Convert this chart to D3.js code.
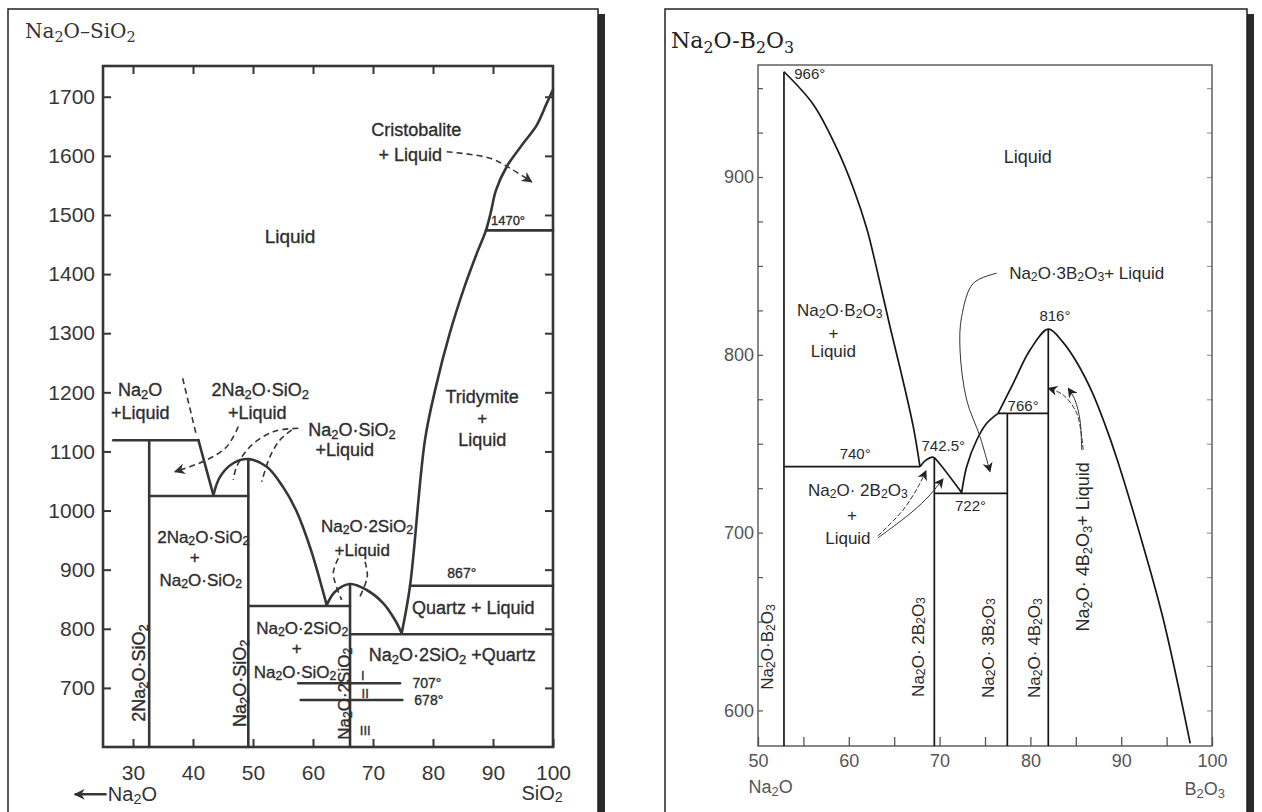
<!DOCTYPE html>
<html lang="en">
<head>
<meta charset="UTF-8">
<title>Na2O-SiO2 and Na2O-B2O3 phase diagrams</title>
<script src="https://cdnjs.cloudflare.com/ajax/libs/d3/7.9.0/d3.min.js"></script>
<style>
  html, body { margin: 0; padding: 0; background: #fff; }
  svg { display: block; }
</style>
</head>
<body>
<svg id="chart" width="1262" height="812"></svg>
<script>
// ---------- Na2O-SiO2 (x = % SiO2, y = deg C) ----------
const silTicksY = d3.range(700, 1701, 100);
const silTicksX = d3.range(30, 101, 10);

const silLiqNa2O = [[40.9, 1119], [43.4, 1026]];
const silDome1 = [[43.4, 1026], [44.5, 1057], [46.7, 1080], [49.22, 1087], [52.3, 1074],
                  [55.0, 1040], [57.2, 1000], [59.6, 935], [62.28, 840]];
const silDome2 = [[62.28, 840], [63.67, 862.7], [66.17, 875.8], [68.95, 865.6],
                  [71.72, 843.1], [73.67, 814.9], [74.78, 792.4]];
const silLiqSiO2 = [[74.78, 792.4], [76.17, 872.4], [78.67, 1120], [80.5, 1210], [82.8, 1300],
                    [85.3, 1380], [87.3, 1435], [88.83, 1474], [89.6, 1503], [90.5, 1542],
                    [92.3, 1582], [94.8, 1618], [97.3, 1652], [99.0, 1690], [100, 1712]];
const silVerticals = [{ x: 32.7, top: 1119 }, { x: 49.22, top: 1087 }, { x: 66.17, top: 875.8 }];
const silHorizontals = [
  { y: 1119, x1: 26.7, x2: 40.9 }, { y: 1024.6, x1: 32.7, x2: 49.22 },
  { y: 838.5, x1: 49.22, x2: 66.17 }, { y: 790.7, x1: 66.17, x2: 100 },
  { y: 872.9, x1: 76.17, x2: 100 }, { y: 1474, x1: 88.83, x2: 100 },
  { y: 707.8, x1: 57.55, x2: 74.5 }, { y: 679.5, x1: 57.95, x2: 74.9 }
];
const silDashed = [
  [[38.28, 1223.8], [40.62, 1125]],
  [[64.22, 919.2], [63.38, 893.9], [64.78, 848.7]],
  [[68.67, 913.5], [69.05, 888.1], [67.55, 848.7]],
  [[57.55, 1139.2], [53.38, 1133.4], [49.5, 1108], [47.28, 1074.2], [46.72, 1051.7]],
  [[56.45, 1136.3], [54.5, 1119.4], [52.83, 1091.1], [51.45, 1048.8]]
];
const silDashedArrows = [
  [[47.55, 1141.9], [45.62, 1108], [42.28, 1085.6], [37.0, 1065.7]],
  [[82.28, 1607], [89.5, 1596], [93.33, 1576], [96.45, 1556]]
];
const silLabels = [
  { t: "Liquid", x: 56.17, y: 1464, s: 19 },
  { t: "Cristobalite", x: 77.2, y: 1644, s: 18 },
  { t: "+ Liquid", x: 76.2, y: 1601, s: 18 },
  { t: "1470°", x: 92.5, y: 1492, s: 13 },
  { t: "Tridymite", x: 88.2, y: 1192, s: 18 },
  { t: "+", x: 88.2, y: 1157, s: 17 },
  { t: "Liquid", x: 88.2, y: 1119, s: 18 },
  { t: "Na_2O", x: 31.2, y: 1204, s: 18 },
  { t: "+Liquid", x: 31.2, y: 1165, s: 18 },
  { t: "2Na_2O·SiO_2", x: 51.2, y: 1204, s: 18 },
  { t: "+Liquid", x: 50.7, y: 1165, s: 18 },
  { t: "Na_2O·SiO_2", x: 66.5, y: 1136, s: 18 },
  { t: "+Liquid", x: 65.3, y: 1102, s: 18 },
  { t: "2Na_2O·SiO_2", x: 41.7, y: 955, s: 17 },
  { t: "+", x: 40.3, y: 921, s: 17 },
  { t: "Na_2O·SiO_2", x: 41.3, y: 882, s: 17 },
  { t: "Na_2O·2SiO_2", x: 69.0, y: 974, s: 17 },
  { t: "+Liquid", x: 68.2, y: 933, s: 17 },
  { t: "867°", x: 84.8, y: 894, s: 14 },
  { t: "Quartz + Liquid", x: 86.7, y: 835, s: 18 },
  { t: "Na_2O·2SiO_2 +Quartz", x: 83.2, y: 756, s: 18 },
  { t: "Na_2O·2SiO_2", x: 58.2, y: 801, s: 17 },
  { t: "+", x: 57.3, y: 767, s: 17 },
  { t: "Na_2O·SiO_2", x: 57.0, y: 727, s: 17 },
  { t: "2Na_2O·SiO_2", x: 31.0, y: 725, s: 18, r: true },
  { t: "Na_2O·SiO_2", x: 47.8, y: 708, s: 18, r: true },
  { t: "Na_2O·2SiO_2", x: 65.2, y: 690, s: 17, r: true },
  { t: "707°", x: 79.0, y: 708, s: 14 },
  { t: "678°", x: 79.3, y: 680, s: 14 },
  { t: "I", x: 68.3, y: 722, s: 13 },
  { t: "II", x: 68.7, y: 691, s: 13 },
  { t: "III", x: 68.7, y: 629, s: 13 }
];

// ---------- Na2O-B2O3 (x = % B2O3, y = deg C) ----------
const borTicksY = d3.range(600, 951, 25);
const borTicksX = d3.range(50, 101, 5);

const borLiqLeft = [[52.86, 959.2], [56.09, 940.8], [58.67, 916.2], [60.5, 893.7], [61.97, 871.2],
                    [63.0, 850], [64.54, 815.8], [65.9, 787], [67.1, 759.6], [67.84, 737.1]];
const borLiqHump = [[67.84, 737.1], [68.5, 740.8], [69.31, 742.4], [69.8, 740], [72.43, 722.5]];
const borLiqLow = [[72.43, 722.5], [72.98, 737.1], [74.09, 752.1], [75.19, 761.5], [76.44, 767.1]];
const borLiqHigh = [[76.44, 767.1], [78.11, 784], [79.96, 802.7], [81.97, 814.4], [83.6, 807],
                    [85.2, 795], [86.8, 779], [88.2, 761], [89.5, 742], [92.0, 700],
                    [94.6, 652], [97.6, 581.5]];
const borVerticals = [{ x: 52.86, top: 959.2 }, { x: 69.42, top: 742 },
                      { x: 77.46, top: 767.1 }, { x: 81.97, top: 814.4 }];
const borHorizontals = [{ y: 737.1, x1: 52.86, x2: 67.84 }, { y: 722.1, x1: 69.42, x2: 77.46 },
                        { y: 767.1, x1: 76.44, x2: 81.97 }];
const borArrows = [
  [[76.29, 845.9], [73.71, 840.2], [72.43, 821.5], [72.25, 802.7], [72.98, 774.6], [74.45, 754], [75.55, 734.3]],
  [[63.2, 698.1], [65.97, 712.7], [67.62, 725.7], [68.5, 734.7]],
  [[63.2, 697], [66.96, 711.6], [68.94, 721.2], [70.37, 730.2]],
  [[85.82, 746.5], [85.1, 767.1], [83.62, 777.4], [81.97, 781.2]],
  [[85.65, 746.5], [85.46, 763.4], [84.91, 774.6], [84.17, 781.2]]
];
const borLabels = [
  { t: "966°", x: 55.7, y: 958.5, s: 15 },
  { t: "Liquid", x: 79.7, y: 911, s: 18 },
  { t: "Na_2O·3B_2O_3+ Liquid", x: 86.2, y: 846, s: 17 },
  { t: "816°", x: 82.7, y: 822.5, s: 15 },
  { t: "Na_2O·B_2O_3", x: 59.0, y: 825, s: 17 },
  { t: "+", x: 58.3, y: 812, s: 17 },
  { t: "Liquid", x: 58.3, y: 802, s: 17 },
  { t: "766°", x: 79.2, y: 772, s: 15 },
  { t: "742.5°", x: 70.4, y: 749.3, s: 15 },
  { t: "740°", x: 60.7, y: 745, s: 15 },
  { t: "722°", x: 73.4, y: 715.5, s: 15 },
  { t: "Na_2O· 2B_2O_3", x: 61.0, y: 724, s: 17 },
  { t: "+", x: 60.35, y: 710, s: 17 },
  { t: "Liquid", x: 59.9, y: 697, s: 17 },
  { t: "Na_2O·B_2O_3", x: 51.0, y: 635.7, s: 17, r: true },
  { t: "Na_2O· 2B_2O_3", x: 67.6, y: 635.7, s: 17, r: true },
  { t: "Na_2O· 3B_2O_3", x: 75.3, y: 635.1, s: 17, r: true },
  { t: "Na_2O· 4B_2O_3", x: 80.4, y: 635.1, s: 17, r: true },
  { t: "Na_2O· 4B_2O_3+ Liquid", x: 85.8, y: 692, s: 18, r: true }
];

// ---------- drawing ----------
const svg = d3.select("#chart");
const sans = "'Liberation Sans', Arial, sans-serif";
const serif = "'DejaVu Serif', 'Liberation Serif', serif";

// text with "_d" subscripts
function rich(sel, s) {
  const parts = s.split(/_(\d)/);
  let low = false;
  parts.forEach((p, i) => {
    if (!p) return;
    const t = sel.append("tspan").text(p);
    if (i % 2 === 1) {
      t.attr("font-size", "0.72em").attr("dy", "0.3em");
      low = true;
    } else if (low) {
      t.attr("dy", "-0.216em");
      low = false;
    }
  });
}

function drawLabels(g, xs, ys, data, fill, weight) {
  data.forEach(d => {
    const px = xs(d.x), py = ys(d.y);
    const t = g.append("text")
      .attr("x", px).attr("y", py)
      .attr("text-anchor", "middle")
      .attr("dominant-baseline", "central")
      .attr("font-family", sans)
      .attr("font-size", d.s)
      .attr("fill", fill)
      .attr("stroke", weight ? fill : null)
      .attr("stroke-width", weight || null);
    if (d.r) t.attr("transform", `rotate(-90 ${px} ${py})`);
    rich(t, d.t);
  });
}

function marker(id, color, size) {
  svg.select("defs").append("marker")
    .attr("id", id)
    .attr("viewBox", "0 0 10 10")
    .attr("refX", 9).attr("refY", 5)
    .attr("markerWidth", size).attr("markerHeight", size)
    .attr("markerUnits", "userSpaceOnUse")
    .attr("orient", "auto")
    .append("path")
    .attr("d", "M0,0 L10,5 L0,10 L3,5 z")
    .attr("fill", color);
}
svg.append("defs");
marker("headL", "#333", 11);
marker("headR", "#222", 10);

// panel frames with dark shadow on the right
function frame(x, y, w, h) {
  svg.append("rect").attr("x", x + w).attr("y", y + 5).attr("width", 7).attr("height", h)
    .attr("fill", "#2b2b2b");
  svg.append("rect").attr("x", x).attr("y", y).attr("width", w).attr("height", h)
    .attr("fill", "#fff").attr("stroke", "#222").attr("stroke-width", 1.5);
}
frame(8, 9, 590, 820);
frame(665, 9, 582, 820);

// ===== left panel =====
const L = svg.append("g");
const xL = d3.scaleLinear().domain([25, 100]).range([103, 553]);
const yL = d3.scaleLinear().domain([600, 1752]).range([747, 66]);
const inkL = "#363636";

const titleL = L.append("text").attr("x", 25).attr("y", 38)
  .attr("font-family", serif).attr("font-size", 20).attr("fill", "#333");
rich(titleL, "Na_2O–SiO_2");

function styleAxis(g, size, color) {
  g.select(".domain").remove();
  g.selectAll(".tick line").attr("stroke", color).attr("stroke-width", 2);
  g.selectAll(".tick text").attr("font-size", size).attr("font-family", sans).attr("fill", color);
}

L.append("g").attr("transform", `translate(0,${yL(600)})`)
  .call(d3.axisBottom(xL).tickValues(silTicksX).tickSize(-8).tickPadding(18).tickFormat(d3.format("d")))
  .call(g => styleAxis(g, 21, inkL));
L.append("g").attr("transform", `translate(0,${yL(1752)})`)
  .call(d3.axisTop(xL).tickValues(silTicksX.slice(0, -1)).tickSize(-8).tickFormat(""))
  .call(g => styleAxis(g, 21, inkL));
L.append("g").attr("transform", `translate(${xL(25)},0)`)
  .call(d3.axisLeft(yL).tickValues(silTicksY).tickSize(-8).tickPadding(8).tickFormat(d3.format("d")))
  .call(g => styleAxis(g, 21, inkL));
L.append("g").attr("transform", `translate(${xL(100)},0)`)
  .call(d3.axisRight(yL).tickValues(silTicksY).tickSize(-8).tickFormat(""))
  .call(g => styleAxis(g, 21, inkL));

L.append("rect")
  .attr("x", xL(25)).attr("y", yL(1752))
  .attr("width", xL(100) - xL(25)).attr("height", yL(600) - yL(1752))
  .attr("fill", "none").attr("stroke", inkL).attr("stroke-width", 2.6);

const lineL = d3.line().x(d => xL(d[0])).y(d => yL(d[1]));
const softL = d3.line().x(d => xL(d[0])).y(d => yL(d[1])).curve(d3.curveCatmullRom.alpha(0.5));

const solidL = L.append("g").attr("fill", "none").attr("stroke", inkL)
  .attr("stroke-width", 2.6).attr("stroke-linecap", "round").attr("stroke-linejoin", "round");
solidL.append("path").attr("d", lineL(silLiqNa2O));
[silDome1, silDome2, silLiqSiO2].forEach(c => solidL.append("path").attr("d", softL(c)));
solidL.selectAll(".v").data(silVerticals).join("line").attr("class", "v")
  .attr("x1", d => xL(d.x)).attr("x2", d => xL(d.x))
  .attr("y1", d => yL(d.top)).attr("y2", yL(600));
solidL.selectAll(".h").data(silHorizontals).join("line").attr("class", "h")
  .attr("x1", d => xL(d.x1)).attr("x2", d => xL(d.x2))
  .attr("y1", d => yL(d.y)).attr("y2", d => yL(d.y));

const dashL = L.append("g").attr("fill", "none").attr("stroke", inkL)
  .attr("stroke-width", 1.6).attr("stroke-dasharray", "6,4");
silDashed.forEach(c => dashL.append("path").attr("d", softL(c)));
silDashedArrows.forEach(c => dashL.append("path").attr("d", softL(c)).attr("marker-end", "url(#headL)"));

drawLabels(L, xL, yL, silLabels, "#2e2e2e", 0.35);

// composition direction below the axis
L.append("line")
  .attr("x1", xL(25.6)).attr("x2", xL(20.3))
  .attr("y1", yL(520)).attr("y2", yL(520))
  .attr("stroke", inkL).attr("stroke-width", 2.4).attr("marker-end", "url(#headL)");
const naL = L.append("text").attr("x", xL(25.8)).attr("y", yL(520)).attr("dominant-baseline", "central")
  .attr("font-family", sans).attr("font-size", 20).attr("fill", "#333");
rich(naL, "Na_2O");
const siL = L.append("text").attr("x", xL(98.2)).attr("y", yL(522)).attr("dominant-baseline", "central")
  .attr("text-anchor", "middle").attr("font-family", sans).attr("font-size", 20).attr("fill", "#333");
rich(siL, "SiO_2");

// ===== right panel =====
const R = svg.append("g");
const xR = d3.scaleLinear().domain([50, 100]).range([758, 1212]);
const yR = d3.scaleLinear().domain([580, 963]).range([746, 65]);
const inkR = "#161616";
const greyR = "#555";

const titleR = R.append("text").attr("x", 671).attr("y", 48)
  .attr("font-family", serif).attr("font-size", 22).attr("fill", "#222");
rich(titleR, "Na_2O-B_2O_3");

R.append("g").attr("transform", `translate(0,${yR(580)})`)
  .call(d3.axisBottom(xR).tickValues(borTicksX).tickSize(-9).tickPadding(8)
    .tickFormat(d => d % 10 === 0 ? d : ""))
  .call(g => styleAxis(g, 18, greyR))
  .call(g => g.selectAll(".tick line").attr("stroke-width", 1.3));
R.append("g").attr("transform", `translate(${xR(50)},0)`)
  .call(d3.axisLeft(yR).tickValues(borTicksY).tickSize(-5).tickPadding(4)
    .tickFormat(d => d % 100 === 0 ? d : ""))
  .call(g => styleAxis(g, 18, greyR))
  .call(g => g.selectAll(".tick line").attr("stroke-width", 1.2));
R.append("g").attr("transform", `translate(${xR(100)},0)`)
  .call(d3.axisRight(yR).tickValues(borTicksY).tickSize(-5).tickFormat(""))
  .call(g => styleAxis(g, 18, "#999"))
  .call(g => g.selectAll(".tick line").attr("stroke-width", 1.2));

R.append("rect")
  .attr("x", xR(50)).attr("y", yR(963))
  .attr("width", xR(100) - xR(50)).attr("height", yR(580) - yR(963))
  .attr("fill", "none").attr("stroke", greyR).attr("stroke-width", 1.4);

const softR = d3.line().x(d => xR(d[0])).y(d => yR(d[1])).curve(d3.curveCatmullRom.alpha(0.5));

const solidR = R.append("g").attr("fill", "none").attr("stroke", inkR)
  .attr("stroke-width", 1.7).attr("stroke-linejoin", "round");
[borLiqLeft, borLiqHump, borLiqLow, borLiqHigh].forEach(c => solidR.append("path").attr("d", softR(c)));
solidR.selectAll(".v").data(borVerticals).join("line").attr("class", "v")
  .attr("x1", d => xR(d.x)).attr("x2", d => xR(d.x))
  .attr("y1", d => yR(d.top)).attr("y2", yR(580));
solidR.selectAll(".h").data(borHorizontals).join("line").attr("class", "h")
  .attr("x1", d => xR(d.x1)).attr("x2", d => xR(d.x2))
  .attr("y1", d => yR(d.y)).attr("y2", d => yR(d.y));

const arrR = R.append("g").attr("fill", "none").attr("stroke", "#333").attr("stroke-width", 1);
borArrows.forEach((c, i) => arrR.append("path").attr("d", softR(c))
  .attr("stroke-dasharray", i % 2 === 0 ? null : "5,2")
  .attr("marker-end", "url(#headR)"));

drawLabels(R, xR, yR, borLabels, "#2a2a2a", 0);

const naR = R.append("text").attr("x", xR(51.4)).attr("y", yR(557)).attr("dominant-baseline", "central")
  .attr("text-anchor", "middle").attr("font-family", sans).attr("font-size", 18).attr("fill", greyR);
rich(naR, "Na_2O");
const bR = R.append("text").attr("x", xR(99.2)).attr("y", yR(556)).attr("dominant-baseline", "central")
  .attr("text-anchor", "middle").attr("font-family", sans).attr("font-size", 18).attr("fill", greyR);
rich(bR, "B_2O_3");
</script>
</body>
</html>
